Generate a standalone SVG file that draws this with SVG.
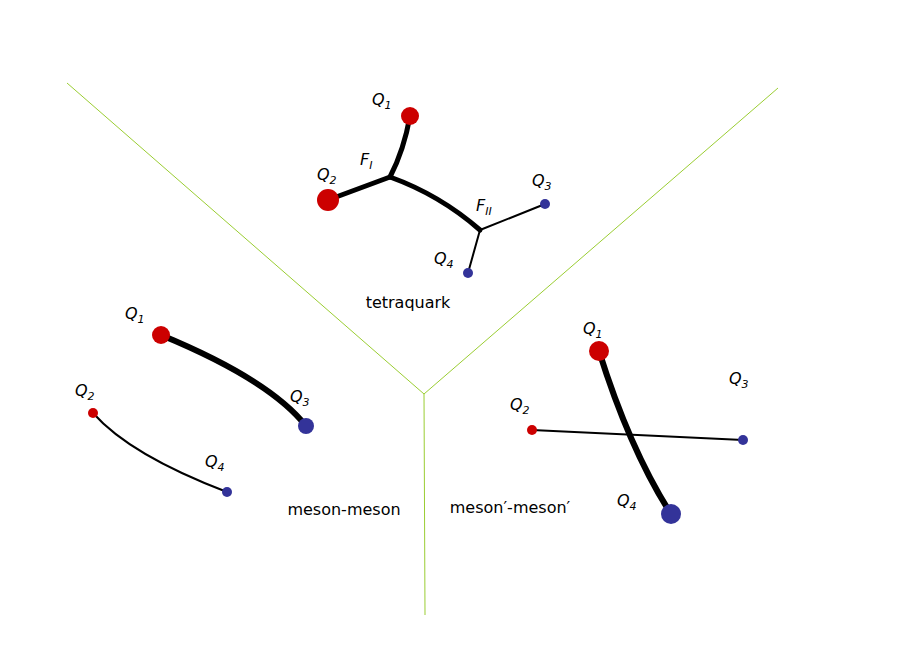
<svg xmlns="http://www.w3.org/2000/svg" width="913" height="646" viewBox="0 0 913 646">
<style>
.b{fill:none;stroke:#9acd32;stroke-width:1}
.k{fill:none;stroke:#000;stroke-linecap:round}
.r{fill:#cc0000}.u{fill:#333399}
text{font-family:"DejaVu Sans",sans-serif;font-size:16px;fill:#000}
.q{font-style:italic}
.s{font-size:11px}
</style>
<rect width="913" height="646" fill="#fff"/>
<g id="borders"><path class="b" d="M67 83L424 394L778 88M424 394L425 615"/></g>
<g id="connectors">
<path class="k" stroke-width="5" d="M410 116Q404 150 390 177"/>
<path class="k" stroke-width="5" d="M328 200L390 177"/>
<path class="k" stroke-width="5" d="M390 177Q440 195 480 230"/>
<path class="k" stroke-width="2" d="M480 230L545 204M480 230L468 273"/>
<path class="k" stroke-width="6" d="M161 335Q270 380 306 426"/>
<path class="k" stroke-width="2" d="M93 413Q130 455 227 492"/>
<path class="k" stroke-width="6" d="M599 351Q630 450 671 514"/>
<path class="k" stroke-width="2" d="M532 430L743 440"/>
</g>
<g id="tetraquark">
<circle class="r" cx="410" cy="116" r="9"/><circle class="r" cx="328" cy="200" r="11"/>
<circle class="u" cx="545" cy="204" r="5"/><circle class="u" cx="468" cy="273" r="5"/>
<text class="q" x="372" y="105">Q<tspan class="s" dy="4">1</tspan></text>
<text class="q" x="317" y="180">Q<tspan class="s" dy="4">2</tspan></text>
<text class="q" x="360" y="165">F<tspan class="s" dy="4">I</tspan></text>
<text class="q" x="476" y="211">F<tspan class="s" dy="4">II</tspan></text>
<text class="q" x="532" y="186">Q<tspan class="s" dy="4">3</tspan></text>
<text class="q" x="434" y="264">Q<tspan class="s" dy="4">4</tspan></text>
<text x="408" y="308" text-anchor="middle">tetraquark</text>
</g>
<g id="meson-meson">
<circle class="r" cx="161" cy="335" r="9"/><circle class="u" cx="306" cy="426" r="8"/>
<circle class="r" cx="93" cy="413" r="5"/><circle class="u" cx="227" cy="492" r="5"/>
<text class="q" x="125" y="319">Q<tspan class="s" dy="4">1</tspan></text>
<text class="q" x="290" y="402">Q<tspan class="s" dy="4">3</tspan></text>
<text class="q" x="75" y="396">Q<tspan class="s" dy="4">2</tspan></text>
<text class="q" x="205" y="467">Q<tspan class="s" dy="4">4</tspan></text>
<text x="344" y="515" text-anchor="middle">meson-meson</text>
</g>
<g id="meson-prime">
<circle class="r" cx="599" cy="351" r="10"/><circle class="u" cx="671" cy="514" r="10"/>
<circle class="r" cx="532" cy="430" r="5"/><circle class="u" cx="743" cy="440" r="5"/>
<text class="q" x="583" y="334">Q<tspan class="s" dy="4">1</tspan></text>
<text class="q" x="729" y="384">Q<tspan class="s" dy="4">3</tspan></text>
<text class="q" x="510" y="410">Q<tspan class="s" dy="4">2</tspan></text>
<text class="q" x="617" y="506">Q<tspan class="s" dy="4">4</tspan></text>
<text x="510" y="513" text-anchor="middle">meson′-meson′</text>
</g>
</svg>
